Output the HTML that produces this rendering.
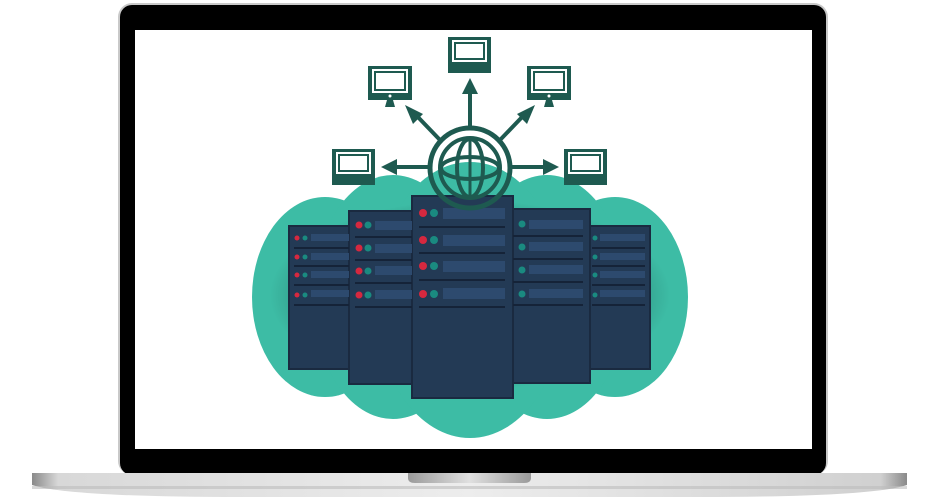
<!DOCTYPE html>
<html><head><style>html,body{margin:0;padding:0;background:#fff;width:940px;height:500px;overflow:hidden}</style></head>
<body>
<svg width="940" height="500" viewBox="0 0 940 500" xmlns="http://www.w3.org/2000/svg">
<defs>
<linearGradient id="base" x1="0" x2="1" y1="0" y2="0">
<stop offset="0" stop-color="#8a8a8a"/><stop offset="0.03" stop-color="#d8d8d8"/><stop offset="0.5" stop-color="#ededed"/><stop offset="0.97" stop-color="#d0d0d0"/><stop offset="1" stop-color="#8a8a8a"/></linearGradient>
<linearGradient id="notch" x1="0" x2="1"><stop offset="0" stop-color="#9a9a9a"/><stop offset="0.5" stop-color="#e0e0e0"/><stop offset="1" stop-color="#9a9a9a"/></linearGradient>
<radialGradient id="shade" cx="0.5" cy="0.5" r="0.5"><stop offset="0.55" stop-color="#0d2a28"/><stop offset="1" stop-color="#3dbca5"/></radialGradient>
<g id="mon"><rect x="0" y="0" width="43" height="30" fill="#1e5a50"/><rect x="4" y="3" width="35" height="22" fill="#fff"/><rect x="6" y="5" width="31" height="18" fill="#1e5a50"/><rect x="8" y="7" width="27" height="14" fill="#fff"/><rect x="0" y="30" width="43" height="6" fill="#1e5a50"/></g>
<g id="mon2"><rect x="0" y="0" width="44" height="34" fill="#1e5a50"/><rect x="4" y="3" width="36" height="24" fill="#fff"/><rect x="6" y="5" width="32" height="20" fill="#1e5a50"/><rect x="8" y="7" width="28" height="16" fill="#fff"/><circle cx="22" cy="30" r="1.5" fill="#fff"/><path d="M19 34 L25 34 L27 41 L17 41 Z" fill="#1e5a50"/></g>
</defs>
<!-- laptop -->
<rect x="118" y="3" width="710" height="472" rx="14" fill="#c9c9c9"/>
<rect x="120" y="5" width="706" height="470" rx="12" fill="#000"/>
<rect x="135" y="30" width="677" height="419" fill="#fff"/>
<path d="M32 473 L907 473 L907 485 Q870 497 700 497 L240 497 Q70 497 32 485 Z" fill="url(#base)"/>
<rect x="32" y="486" width="875" height="3" fill="#bcbcbc" opacity="0.6"/>
<path d="M408 473 L531 473 L531 478 Q531 483 524 483 L415 483 Q408 483 408 478 Z" fill="url(#notch)"/>
<!-- blobs -->
<g fill="#3dbca5">
<ellipse cx="325" cy="297" rx="73" ry="100"/>
<ellipse cx="615" cy="297" rx="73" ry="100"/>
<ellipse cx="393" cy="297" rx="80" ry="122"/>
<ellipse cx="547" cy="297" rx="80" ry="122"/>
<ellipse cx="470" cy="300" rx="95" ry="138"/>
</g>
<ellipse cx="470" cy="295" rx="200" ry="95" fill="url(#shade)" opacity="0.55"/>
<!-- servers -->
<g>
<rect x="289" y="226" width="62" height="143" fill="#233a55" stroke="#1a2a40" stroke-width="2"/>
<rect x="590" y="226" width="60" height="143" fill="#233a55" stroke="#1a2a40" stroke-width="2"/>
<rect x="349" y="211" width="65" height="173" fill="#233a55" stroke="#1a2a40" stroke-width="2"/>
<rect x="511" y="209" width="79" height="174" fill="#233a55" stroke="#1a2a40" stroke-width="2"/>
<rect x="412" y="196" width="101" height="202" fill="#233a55" stroke="#1a2a40" stroke-width="2"/>
</g>
<g fill="#2d4a6e">
<rect x="311" y="234" width="38" height="7"/><rect x="311" y="253" width="38" height="7"/><rect x="311" y="271" width="38" height="7"/><rect x="311" y="290" width="38" height="7"/>
<rect x="375" y="221" width="37" height="9"/><rect x="375" y="244" width="37" height="9"/><rect x="375" y="266" width="37" height="9"/><rect x="375" y="290" width="37" height="9"/>
<rect x="443" y="208" width="62" height="11"/><rect x="443" y="235" width="62" height="11"/><rect x="443" y="261" width="62" height="11"/><rect x="443" y="288" width="62" height="11"/>
<rect x="529" y="220" width="54" height="9"/><rect x="529" y="242" width="54" height="9"/><rect x="529" y="265" width="54" height="9"/><rect x="529" y="289" width="54" height="9"/>
<rect x="600" y="234" width="45" height="7"/><rect x="600" y="253" width="45" height="7"/><rect x="600" y="271" width="45" height="7"/><rect x="600" y="290" width="45" height="7"/>
</g>
<g fill="#152338">
<rect x="294" y="247" width="55" height="2"/><rect x="294" y="265" width="55" height="2"/><rect x="294" y="284" width="55" height="2"/><rect x="294" y="304" width="55" height="2"/>
<rect x="355" y="236" width="57" height="2"/><rect x="355" y="259" width="57" height="2"/><rect x="355" y="282" width="57" height="2"/><rect x="355" y="306" width="57" height="2"/>
<rect x="419" y="226" width="86" height="2"/><rect x="419" y="252" width="86" height="2"/><rect x="419" y="279" width="86" height="2"/><rect x="419" y="306" width="86" height="2"/>
<rect x="513" y="235" width="70" height="2"/><rect x="513" y="258" width="70" height="2"/><rect x="513" y="281" width="70" height="2"/><rect x="513" y="304" width="70" height="2"/>
<rect x="592" y="247" width="53" height="2"/><rect x="592" y="265" width="53" height="2"/><rect x="592" y="284" width="53" height="2"/><rect x="592" y="304" width="53" height="2"/>
</g>
<g fill="#d6283f">
<circle cx="297" cy="238" r="2.5"/><circle cx="297" cy="257" r="2.5"/><circle cx="297" cy="275" r="2.5"/><circle cx="297" cy="295" r="2.5"/>
<circle cx="359" cy="225" r="3.5"/><circle cx="359" cy="248" r="3.5"/><circle cx="359" cy="271" r="3.5"/><circle cx="359" cy="295" r="3.5"/>
<circle cx="423" cy="213" r="4"/><circle cx="423" cy="240" r="4"/><circle cx="423" cy="266" r="4"/><circle cx="423" cy="294" r="4"/>
</g>
<g fill="#1a8a80">
<circle cx="305" cy="238" r="2.5"/><circle cx="305" cy="257" r="2.5"/><circle cx="305" cy="275" r="2.5"/><circle cx="305" cy="295" r="2.5"/>
<circle cx="368" cy="225" r="3.5"/><circle cx="368" cy="248" r="3.5"/><circle cx="368" cy="271" r="3.5"/><circle cx="368" cy="295" r="3.5"/>
<circle cx="434" cy="213" r="4"/><circle cx="434" cy="240" r="4"/><circle cx="434" cy="266" r="4"/><circle cx="434" cy="294" r="4"/>
<circle cx="522" cy="224" r="3.5"/><circle cx="522" cy="247" r="3.5"/><circle cx="522" cy="270" r="3.5"/><circle cx="522" cy="294" r="3.5"/>
<circle cx="595" cy="238" r="2.5"/><circle cx="595" cy="257" r="2.5"/><circle cx="595" cy="275" r="2.5"/><circle cx="595" cy="295" r="2.5"/>
</g>
<!-- globe -->
<g fill="none" stroke="#1e5a50">
<circle cx="470" cy="168" r="40" stroke-width="5"/>
<circle cx="470" cy="168" r="30" stroke-width="4"/>
<ellipse cx="470" cy="168" rx="29" ry="11" stroke-width="4"/>
<ellipse cx="470" cy="168" rx="13" ry="29" stroke-width="4"/>
<line x1="470" y1="139" x2="470" y2="197" stroke-width="3"/>
</g>
<!-- arrows -->
<g stroke="#1e5a50" stroke-width="4">
<line x1="470" y1="128" x2="470" y2="92"/>
<line x1="440" y1="140" x2="415" y2="114"/>
<line x1="500" y1="140" x2="525" y2="114"/>
<line x1="430" y1="167" x2="395" y2="167"/>
<line x1="510" y1="167" x2="545" y2="167"/>
</g>
<g fill="#1e5a50">
<path d="M470 78 L478 94 L462 94 Z"/>
<path d="M405 105 L423 114 L413 124 Z"/>
<path d="M535 105 L517 114 L527 124 Z"/>
<path d="M381 167 L397 159 L397 175 Z"/>
<path d="M559 167 L543 159 L543 175 Z"/>
</g>
<use href="#mon" x="448" y="37"/>
<use href="#mon" x="332" y="149"/>
<use href="#mon" x="564" y="149"/>
<use href="#mon2" x="368" y="66"/>
<use href="#mon2" x="527" y="66"/>
</svg>
</body></html>
